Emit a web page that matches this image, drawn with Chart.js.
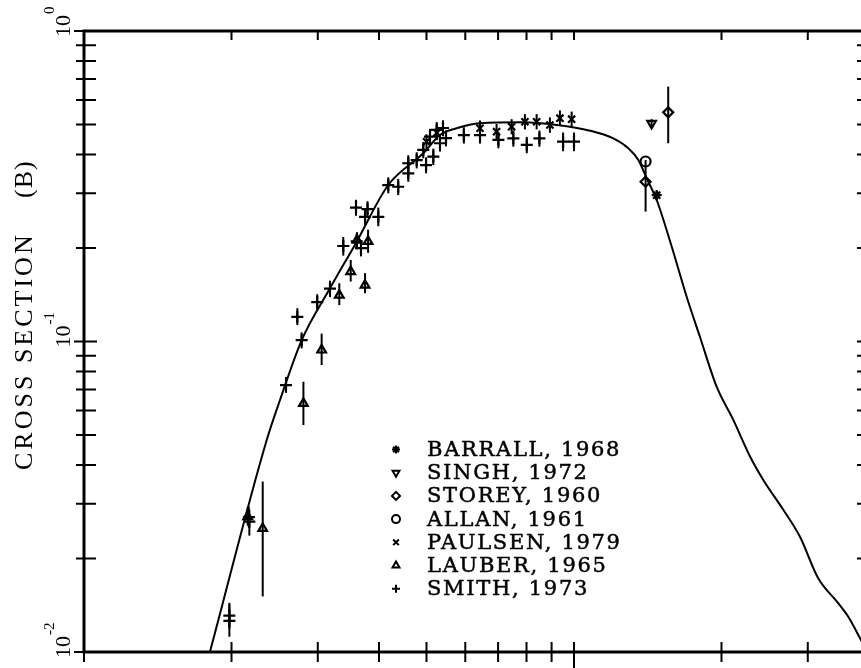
<!DOCTYPE html>
<html>
<head>
<meta charset="utf-8">
<script src="https://cdn.jsdelivr.net/npm/chart.js@4/dist/chart.umd.min.js"></script>
<style>
  html, body { margin: 0; padding: 0; background: #fff; overflow: hidden; }
  #wrap { position: absolute; left: 0; top: 0; width: 880px; height: 668px; }
</style>
</head>
<body>
<div id="wrap"><canvas id="c" width="880" height="668"></canvas></div>
<script>
// Evaluated excitation curve: neutron energy (MeV) vs cross section (barns)
const curveE  = [1.807, 2.36, 2.512, 2.782, 3.177, 3.602, 4.178, 4.925, 5.327, 5.762, 6.43, 7.87, 9.22,
                 10.78, 12.03, 12.91, 13.53, 14.07, 14.75, 15.83, 16.98, 18.07, 19.55, 21.14, 22.87,
                 24.34, 26.74, 28.92, 31.51, 34.63, 36.29, 38.52, 40.0];
const curveCS = [0.01, 0.0482, 0.0648, 0.1011, 0.1483, 0.2097, 0.3192, 0.4037, 0.4624, 0.486, 0.5044, 0.508, 0.498,
                 0.4775, 0.451, 0.419, 0.384, 0.3354, 0.2856, 0.2019, 0.1394, 0.1036, 0.0715, 0.0559, 0.0426,
                 0.0358, 0.0287, 0.0235, 0.01727, 0.01435, 0.01299, 0.01093, 0.0098];

// Measurements: energy, cross section, lower and upper error limits
const barrallE  = [14.75];
const barrallCS = [0.296];
const barrallLo = [0.285];
const barrallHi = [0.307];

const singhE  = [14.4];
const singhCS = [0.504];
const singhLo = [0.49];
const singhHi = [0.52];

const storeyE  = [15.57, 14.0];
const storeyCS = [0.547, 0.327];
const storeyLo = [0.435, 0.262];
const storeyHi = [0.662, 0.384];

const allanE  = [14.0];
const allanCS = [0.38];
const allanLo = [0.38];
const allanHi = [0.38];

const paulsenE  = [5.0, 5.25, 6.43, 6.95, 7.46, 7.94, 8.39, 8.93, 9.36, 9.89];
const paulsenCS = [0.44, 0.47, 0.486, 0.474, 0.492, 0.51, 0.51, 0.498, 0.524, 0.52];
const paulsenLo = [0.415, 0.445, 0.458, 0.447, 0.465, 0.482, 0.482, 0.47, 0.495, 0.49];
const paulsenHi = [0.465, 0.497, 0.515, 0.502, 0.52, 0.54, 0.54, 0.527, 0.555, 0.55];

const lauberE  = [2.158, 2.316, 2.804, 3.055, 3.319, 3.502, 3.746, 3.607, 3.80];
const lauberCS = [0.0273, 0.025, 0.0632, 0.0939, 0.141, 0.168, 0.152, 0.212, 0.21];
const lauberLo = [0.0255, 0.0151, 0.0538, 0.084, 0.131, 0.156, 0.143, 0.20, 0.193];
const lauberHi = [0.0292, 0.0354, 0.0742, 0.106, 0.154, 0.183, 0.166, 0.225, 0.229];

const smithE  = [1.98, 1.98, 2.175, 2.17, 2.584, 2.725, 2.781, 2.992, 3.177, 3.382, 3.602, 3.675, 3.59,
                 3.746, 3.79, 3.987, 4.178, 4.378, 4.59, 4.59, 4.775, 4.925, 4.99, 5.083, 5.163, 5.246,
                 5.327, 5.403, 5.48, 5.96, 6.43, 7.01, 7.52, 8.01, 8.50, 9.50, 10.0];
const smithCS = [0.0126, 0.0131, 0.0263, 0.0272, 0.0724, 0.120, 0.101, 0.134, 0.148, 0.203, 0.21, 0.20, 0.270,
                 0.252, 0.267, 0.252, 0.319, 0.315, 0.348, 0.375, 0.384, 0.414, 0.370, 0.457, 0.394, 0.480,
                 0.435, 0.487, 0.452, 0.462, 0.462, 0.446, 0.451, 0.430, 0.451, 0.44, 0.44];
const smithLo = [0.0112, 0.0119, 0.0237, 0.0251, 0.0683, 0.113, 0.095, 0.126, 0.139, 0.189, 0.198, 0.188, 0.254,
                 0.237, 0.251, 0.235, 0.30, 0.296, 0.327, 0.352, 0.361, 0.389, 0.348, 0.43, 0.37, 0.451,
                 0.409, 0.458, 0.425, 0.434, 0.434, 0.419, 0.424, 0.404, 0.424, 0.41, 0.41];
const smithHi = [0.0142, 0.0144, 0.0287, 0.0294, 0.0769, 0.128, 0.107, 0.142, 0.157, 0.217, 0.223, 0.212, 0.286,
                 0.267, 0.283, 0.27, 0.338, 0.334, 0.369, 0.398, 0.407, 0.439, 0.392, 0.484, 0.418, 0.509,
                 0.461, 0.516, 0.479, 0.49, 0.49, 0.473, 0.478, 0.456, 0.478, 0.471, 0.471];

// Tick positions
const xTicks = [1, 2, 3, 4, 5, 6, 7, 8, 9, 10, 20, 30];
const yTicks = [1, 0.9, 0.8, 0.7, 0.6, 0.5, 0.4, 0.3, 0.2, 0.1,
                0.09, 0.08, 0.07, 0.06, 0.05, 0.04, 0.03, 0.02, 0.01];
const yDecades = [1, 0.1, 0.01];
const yDecadeLabels = [['10', '0'], ['10', '-1'], ['10', '-2']];
const yTitleWords = ['CROSS SECTION', '(B)'];

const series = [
  { label: 'BARRALL, 1968', e: barrallE, cs: barrallCS, lo: barrallLo, hi: barrallHi, style: 'star', rot: 0, r: 5 },
  { label: 'SINGH, 1972',   e: singhE,   cs: singhCS,   lo: singhLo,   hi: singhHi,   style: 'triangle', rot: 180, r: 5 },
  { label: 'STOREY, 1960',  e: storeyE,  cs: storeyCS,  lo: storeyLo,  hi: storeyHi,  style: 'rectRot', rot: 0, r: 5 },
  { label: 'ALLAN, 1961',   e: allanE,   cs: allanCS,   lo: allanLo,   hi: allanHi,   style: 'circle', rot: 0, r: 5 },
  { label: 'PAULSEN, 1979', e: paulsenE, cs: paulsenCS, lo: paulsenLo, hi: paulsenHi, style: 'crossRot', rot: 0, r: 5 },
  { label: 'LAUBER, 1965',  e: lauberE,  cs: lauberCS,  lo: lauberLo,  hi: lauberHi,  style: 'triangle', rot: 0, r: 5 },
  { label: 'SMITH, 1973',   e: smithE,   cs: smithCS,   lo: smithLo,   hi: smithHi,   style: 'cross', rot: 0, r: 6 }
];

const INK = '#000';
const SERIF = '"Liberation Serif", "DejaVu Serif", serif';

const datasets = [{
  label: 'curve',
  data: curveE.map((e, i) => ({ x: e, y: curveCS[i] })),
  showLine: true,
  borderColor: INK,
  borderWidth: 2,
  pointRadius: 0,
  cubicInterpolationMode: 'monotone',
  order: 10
}];
series.forEach(s => {
  datasets.push({
    label: s.label,
    data: s.e.map((e, i) => ({ x: e, y: s.cs[i] })),
    errLo: s.lo,
    errHi: s.hi,
    showLine: false,
    pointStyle: s.style,
    rotation: s.rot,
    pointRadius: s.r,
    borderColor: INK,
    borderWidth: 2.2,
    backgroundColor: 'rgba(255,255,255,0)',
    order: 1
  });
});

// Vertical error bars, drawn under the markers
const errorBars = {
  id: 'errorBars',
  beforeDatasetsDraw(chart) {
    const { ctx, scales: { x, y } } = chart;
    ctx.save();
    ctx.strokeStyle = INK;
    ctx.lineWidth = 2;
    chart.data.datasets.forEach(ds => {
      if (!ds.errLo) return;
      ds.data.forEach((p, i) => {
        const px = x.getPixelForValue(p.x);
        ctx.beginPath();
        ctx.moveTo(px, y.getPixelForValue(ds.errLo[i]));
        ctx.lineTo(px, y.getPixelForValue(ds.errHi[i]));
        ctx.stroke();
      });
    });
    ctx.restore();
  }
};

// Frame, tick marks, decade labels, axis title and legend
const frame = {
  id: 'frame',
  afterDraw(chart) {
    const { ctx, chartArea: a, scales: { x, y } } = chart;
    ctx.save();
    ctx.strokeStyle = INK;
    ctx.fillStyle = INK;
    ctx.lineCap = 'butt';

    // box
    ctx.lineWidth = 3;
    ctx.strokeRect(a.left, a.top, a.right - a.left, a.bottom - a.top);

    // x ticks
    ctx.lineWidth = 2;
    xTicks.forEach(v => {
      const px = x.getPixelForValue(v);
      ctx.beginPath();
      if (v === 1) {
        ctx.moveTo(px, a.bottom); ctx.lineTo(px, a.bottom + 10);
      } else {
        ctx.moveTo(px, a.bottom - 10); ctx.lineTo(px, a.bottom + (v === 10 ? 16 : 10));
        ctx.moveTo(px, a.top); ctx.lineTo(px, a.top + 9);
      }
      ctx.stroke();
    });

    // y ticks
    yTicks.forEach(v => {
      const py = y.getPixelForValue(v);
      const major = yDecades.includes(v);
      ctx.beginPath();
      ctx.moveTo(a.left - (major ? 10 : 8), py);
      ctx.lineTo(a.left + (major ? 13 : 12), py);
      ctx.moveTo(a.right - 12, py);
      ctx.lineTo(a.right, py);
      ctx.stroke();
    });

    // decade labels, rotated to read upward
    yDecades.forEach((v, i) => {
      const py = y.getPixelForValue(v);
      const [base, exp] = yDecadeLabels[i];
      ctx.save();
      ctx.translate(70, py);
      ctx.rotate(-Math.PI / 2);
      ctx.font = '22px ' + SERIF;
      ctx.textBaseline = 'alphabetic';
      ctx.textAlign = 'left';
      const w = ctx.measureText(base).width;
      ctx.fillText(base, -6, 0);
      ctx.font = '15px ' + SERIF;
      ctx.fillText(exp, w - 5, -16);
      ctx.restore();
    });

    // axis title
    ctx.save();
    ctx.translate(32, 0);
    ctx.rotate(-Math.PI / 2);
    ctx.font = '26px ' + SERIF;
    ctx.letterSpacing = '3px';
    ctx.textAlign = 'left';
    ctx.textBaseline = 'alphabetic';
    ctx.fillText(yTitleWords[0], -470, 0);
    ctx.letterSpacing = '1px';
    ctx.fillText(yTitleWords[1], -198, 0);
    ctx.restore();

    // legend
    series.forEach((s, i) => {
      const cy = 449.5 + 23.2 * i;
      ctx.save();
      ctx.strokeStyle = INK;
      ctx.fillStyle = 'rgba(255,255,255,0)';
      ctx.lineWidth = 2;
      Chart.helpers.drawPoint(ctx, { pointStyle: s.style, radius: 4, rotation: s.rot, borderWidth: 2 }, 396, cy);
      ctx.restore();
      ctx.save();
      ctx.font = '21px "DejaVu Serif"';
      ctx.letterSpacing = '1.7px';
      ctx.textAlign = 'left';
      ctx.textBaseline = 'middle';
      ctx.fillStyle = INK;
      ctx.strokeStyle = INK;
      ctx.lineWidth = 0.5;
      ctx.fillText(s.label, 427, cy + 1);
      ctx.strokeText(s.label, 427, cy + 1);
      ctx.restore();
    });
    ctx.restore();
  }
};

new Chart(document.getElementById('c'), {
  type: 'scatter',
  data: { datasets },
  options: {
    responsive: false,
    animation: false,
    layout: { padding: { left: 84, top: 31, right: 11, bottom: 16 } },
    scales: {
      x: { type: 'logarithmic', min: 1, max: 40, display: false },
      y: { type: 'logarithmic', min: 0.01, max: 1, display: false }
    },
    plugins: { legend: { display: false }, tooltip: { enabled: false } }
  },
  plugins: [errorBars, frame]
});
</script>
</body>
</html>
